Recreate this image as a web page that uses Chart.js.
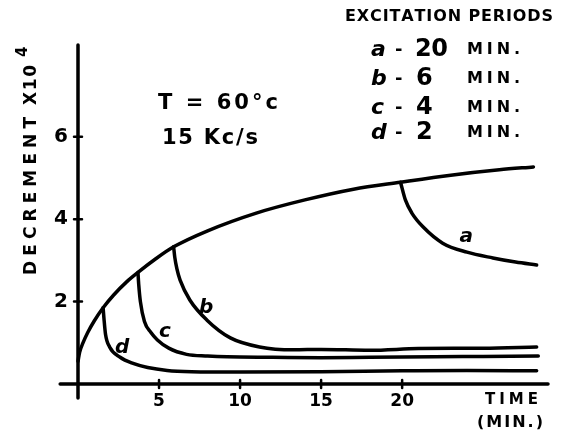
<!DOCTYPE html>
<html>
<head>
<meta charset="utf-8">
<script src="https://cdn.jsdelivr.net/npm/chart.js@4.4.0/dist/chart.umd.min.js"></script>
<style>
html, body { margin: 0; padding: 0; background: #fff; }
#wrap { width: 570px; height: 440px; }
</style>
</head>
<body>
<div id="wrap"><canvas id="decrementChart" width="570" height="440"></canvas></div>
<script>
// time in minutes, decrement in units of 10^-4
const envelopeTime = [0, 0.1, 0.3, 0.6, 1.0, 1.55, 2.2, 3.0, 3.7, 4.8, 5.9, 8, 11, 14, 17, 19.9, 23, 26, 28.1];
const envelopeDecrement = [0.55, 0.77, 0.99, 1.25, 1.53, 1.85, 2.16, 2.48, 2.71, 3.04, 3.33, 3.72, 4.15, 4.47, 4.73, 4.9, 5.07, 5.2, 5.27];

const curveATime = [19.9, 20.2, 20.6, 21.3, 22.5, 24, 25.6, 27, 28.3];
const curveADecrement = [4.9, 4.47, 4.15, 3.81, 3.42, 3.2, 3.06, 2.96, 2.89];

const curveBTime = [5.9, 5.97, 6.1, 6.3, 6.9, 7.96, 9.4, 11.2, 13.3, 15, 18, 21, 25, 28.3];
const curveBDecrement = [3.33, 3.08, 2.8, 2.52, 2.04, 1.55, 1.12, 0.9, 0.83, 0.84, 0.82, 0.86, 0.87, 0.9];

const curveCTime = [3.7, 3.75, 3.85, 4.1, 4.5, 4.9, 5.6, 6.7, 8, 9.2, 12, 15, 18, 22, 25, 28.4];
const curveCDecrement = [2.71, 2.4, 2.0, 1.52, 1.25, 1.07, 0.87, 0.72, 0.68, 0.66, 0.65, 0.64, 0.65, 0.66, 0.67, 0.68];

const curveDTime = [1.55, 1.6, 1.7, 1.95, 2.6, 3.4, 4.3, 5.5, 7, 10, 15, 20, 24, 28.3];
const curveDDecrement = [1.85, 1.6, 1.2, 0.9, 0.65, 0.5, 0.4, 0.33, 0.3, 0.29, 0.3, 0.32, 0.33, 0.32];

const periodLetters = ['a', 'b', 'c', 'd'];
const periodMinutes = [20, 6, 4, 2];
// where each curve letter sits, in chart units
const letterTime = [23.95, 7.9, 5.37, 2.72];
const letterDecrement = [3.57, 1.84, 1.26, 0.87];

const timeTicks = [5, 10, 15, 20];
const decrementTicks = [2, 4, 6];

const FONT = '"DejaVu Sans", sans-serif';

function toPoints(xs, ys) {
    return xs.map((x, i) => ({ x: x, y: ys[i] }));
}

function inkLine(xs, ys) {
    return {
        data: toPoints(xs, ys),
        borderColor: '#000',
        borderWidth: 3.5,
        borderCapStyle: 'round',
        borderJoinStyle: 'round',
        pointRadius: 0,
        fill: false,
        cubicInterpolationMode: 'monotone',
        clip: false
    };
}

// spreads the characters of a string evenly over a given width
function spacedText(ctx, text, left, midY, width) {
    const chars = [...text];
    const widths = chars.map(ch => ctx.measureText(ch).width);
    const total = widths.reduce((a, b) => a + b, 0);
    const gap = chars.length > 1 ? (width - total) / (chars.length - 1) : 0;
    let cx = left;
    chars.forEach((ch, i) => {
        ctx.fillText(ch, cx, midY);
        cx += widths[i] + gap;
    });
}

const handAxes = {
    id: 'handAxes',
    beforeDatasetsDraw(chart) {
        const { ctx, scales: { x, y } } = chart;
        ctx.save();
        ctx.strokeStyle = '#000';
        ctx.lineCap = 'round';
        ctx.lineWidth = 3.5;
        ctx.beginPath();
        ctx.moveTo(x.getPixelForValue(-1.1), y.getPixelForValue(0));
        ctx.lineTo(x.getPixelForValue(29), y.getPixelForValue(0));
        ctx.moveTo(x.getPixelForValue(0), y.getPixelForValue(-0.34));
        ctx.lineTo(x.getPixelForValue(0), y.getPixelForValue(8.23));
        ctx.stroke();

        ctx.lineWidth = 2.5;
        ctx.beginPath();
        timeTicks.forEach(t => {
            const px = x.getPixelForValue(t);
            ctx.moveTo(px, y.getPixelForValue(0) - 4);
            ctx.lineTo(px, y.getPixelForValue(0) + 4);
        });
        decrementTicks.forEach(v => {
            const py = y.getPixelForValue(v);
            ctx.moveTo(x.getPixelForValue(0) - 4, py);
            ctx.lineTo(x.getPixelForValue(0) + 4, py);
        });
        ctx.stroke();
        ctx.restore();
    },
    afterDraw(chart) {
        const { ctx, scales: { x, y } } = chart;
        ctx.save();
        ctx.fillStyle = '#000';
        ctx.textBaseline = 'middle';
        ctx.textAlign = 'left';

        // vertical axis title
        ctx.save();
        ctx.translate(32, 275);
        ctx.rotate(-Math.PI / 2);
        ctx.font = 'bold 17px ' + FONT;
        spacedText(ctx, 'DECREMENT', 0, 0, 158);
        spacedText(ctx, 'X10', 170, 0, 40);
        ctx.font = 'bold 15px ' + FONT;
        ctx.fillText('4', 218, -9);
        ctx.restore();

        // horizontal axis title
        ctx.font = 'bold 15px ' + FONT;
        spacedText(ctx, 'TIME', 485, 400, 53);
        ctx.font = 'bold 16px ' + FONT;
        spacedText(ctx, '(MIN.)', 477, 423, 66);

        // test conditions
        ctx.font = 'bold 21px ' + FONT;
        spacedText(ctx, 'T = 60°c', 158, 104, 120);
        spacedText(ctx, '15 Kc/s', 162, 139, 96);

        // excitation period key
        ctx.font = 'bold 16px ' + FONT;
        spacedText(ctx, 'EXCITATION PERIODS', 345, 17, 208);
        const rowY = [50, 79, 108, 133];
        periodLetters.forEach((letter, i) => {
            const ry = rowY[i];
            ctx.font = 'italic bold 22px ' + FONT;
            ctx.fillText(letter, 371, ry);
            ctx.font = 'bold 18px ' + FONT;
            ctx.fillText('-', 395, ry);
            ctx.font = 'bold 24px ' + FONT;
            const num = String(periodMinutes[i]);
            if (num.length > 1) {
                spacedText(ctx, num, 415, ry, 33);
            } else {
                ctx.fillText(num, 416, ry);
            }
            ctx.font = 'bold 16px ' + FONT;
            spacedText(ctx, 'MIN.', 467, ry, 53);
        });

        // curve letters
        ctx.font = 'italic bold 20px ' + FONT;
        ctx.textAlign = 'center';
        periodLetters.forEach((letter, i) => {
            ctx.fillText(letter, x.getPixelForValue(letterTime[i]), y.getPixelForValue(letterDecrement[i]));
        });
        ctx.restore();
    }
};

new Chart(document.getElementById('decrementChart').getContext('2d'), {
    type: 'line',
    data: {
        datasets: [
            inkLine(envelopeTime, envelopeDecrement),
            inkLine(curveATime, curveADecrement),
            inkLine(curveBTime, curveBDecrement),
            inkLine(curveCTime, curveCDecrement),
            inkLine(curveDTime, curveDDecrement)
        ]
    },
    options: {
        responsive: false,
        animation: false,
        devicePixelRatio: 1,
        layout: { padding: { top: 45, right: 22, left: 0, bottom: 0 } },
        plugins: {
            legend: { display: false },
            tooltip: { enabled: false }
        },
        scales: {
            x: {
                type: 'linear',
                min: 0,
                max: 29,
                afterBuildTicks: scale => { scale.ticks = timeTicks.map(v => ({ value: v })); },
                afterFit: scale => { scale.height = 56; },
                grid: { display: false, drawTicks: false },
                border: { display: false },
                ticks: { color: '#000', padding: 7, maxRotation: 0, font: { family: FONT, size: 17, weight: 'bold' } }
            },
            y: {
                type: 'linear',
                min: 0,
                max: 8.23,
                afterBuildTicks: scale => { scale.ticks = decrementTicks.map(v => ({ value: v })); },
                afterFit: scale => { scale.width = 78; },
                grid: { display: false, drawTicks: false },
                border: { display: false },
                ticks: { color: '#000', padding: 10, font: { family: FONT, size: 20, weight: 'bold' } }
            }
        }
    },
    plugins: [handAxes]
});
</script>
</body>
</html>
